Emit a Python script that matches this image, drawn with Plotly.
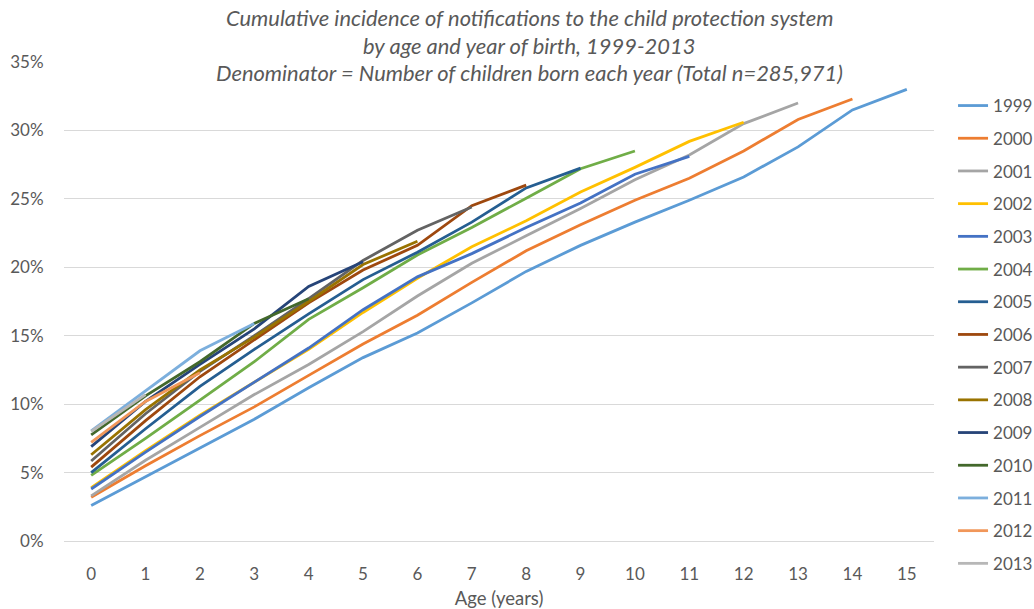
import plotly.graph_objects as go

ages = list(range(16))
age_labels = [str(a) for a in ages]
years = ["1999", "2000", "2001", "2002", "2003", "2004", "2005", "2006",
         "2007", "2008", "2009", "2010", "2011", "2012", "2013"]

# cumulative incidence (%) by age, one list per birth year
y1999 = [2.6, 4.7, 6.8, 8.9, 11.2, 13.4, 15.2, 17.4, 19.7, 21.6, 23.3, 24.9, 26.6, 28.8, 31.5, 33.0]
y2000 = [3.2, 5.5, 7.7, 9.8, 12.1, 14.4, 16.5, 18.9, 21.2, 23.1, 24.9, 26.5, 28.5, 30.8, 32.3]
y2001 = [3.3, 5.9, 8.3, 10.7, 12.9, 15.3, 17.9, 20.3, 22.3, 24.3, 26.4, 28.2, 30.5, 32.0]
y2002 = [3.9, 6.6, 9.2, 11.6, 14.0, 16.7, 19.2, 21.5, 23.4, 25.5, 27.3, 29.2, 30.6]
y2003 = [3.8, 6.5, 9.1, 11.6, 14.1, 16.9, 19.3, 21.0, 22.9, 24.7, 26.8, 28.1]
y2004 = [4.8, 7.5, 10.3, 13.1, 16.2, 18.5, 20.9, 22.9, 25.05, 27.2, 28.5]
y2005 = [5.0, 8.2, 11.3, 14.0, 16.6, 19.1, 21.1, 23.3, 25.8, 27.25]
y2006 = [5.4, 8.8, 12.0, 14.7, 17.4, 19.8, 21.6, 24.5, 26.0]
y2007 = [5.85, 9.3, 12.4, 15.0, 17.7, 20.5, 22.7, 24.4]
y2008 = [6.3, 9.6, 12.5, 14.9, 17.5, 20.2, 21.9]
y2009 = [6.9, 10.2, 12.9, 15.5, 18.6, 20.4]
y2010 = [7.75, 10.6, 13.1, 15.9, 17.7]
y2011 = [8.05, 11.0, 13.9, 15.9]
y2012 = [7.2, 10.2, 12.3]
y2013 = [8.0, 10.7]

series = [y1999, y2000, y2001, y2002, y2003, y2004, y2005, y2006,
          y2007, y2008, y2009, y2010, y2011, y2012, y2013]
colors = ["#5B9BD5", "#ED7D31", "#A5A5A5", "#FFC000", "#4472C4", "#70AD47",
          "#255E91", "#9E480E", "#636363", "#997300", "#264478", "#43682B",
          "#7CAFDD", "#F1975A", "#B7B7B7"]

title_lines = [
    "Cumulative incidence of notifications to the child protection system",
    "by age and year of birth, 1999-2013",
    "Denominator = Number of children born each year (Total n=285,971)",
]

FONT = "Lato, 'Open Sans', sans-serif"
GREY = "#595959"

fig = go.Figure()
for yr, vals, col in zip(years, series, colors):
    fig.add_trace(go.Scatter(
        x=ages[:len(vals)], y=[v / 100 for v in vals],
        mode="lines", name=yr, legendgroup=yr,
        line=dict(color=col, width=2.8),
    ))

for txt, yp in zip(title_lines, [1.092, 1.035, 0.979]):
    fig.add_annotation(text="<i>" + txt + "</i>", x=0.535, y=yp,
                       xref="paper", yref="paper", showarrow=False,
                       xanchor="center", yanchor="middle",
                       font=dict(family=FONT, size=21.9, color=GREY))

fig.update_layout(
    width=1034, height=609,
    margin=dict(l=64, r=100, t=62, b=68, autoexpand=False),
    plot_bgcolor="white", paper_bgcolor="white",
    font=dict(family=FONT, color=GREY),
    showlegend=True,
    legend=dict(xref="container", yref="container",
                x=0.9217, xanchor="left", y=0.8555, yanchor="top",
                font=dict(family=FONT, size=17, color=GREY),
                tracegroupgap=7.6, itemwidth=30, maxheight=600,
                bgcolor="rgba(0,0,0,0)"),
    xaxis=dict(
        range=[-0.5, 15.5], tickmode="array", tickvals=ages, ticktext=age_labels,
        showgrid=False, zeroline=False, showline=False, automargin=False,
        ticks="outside", ticklen=18, tickcolor="rgba(0,0,0,0)",
        tickfont=dict(family=FONT, size=17, color=GREY),
        title=dict(text="Age (years)", font=dict(family=FONT, size=18.5, color=GREY), standoff=8),
    ),
    yaxis=dict(
        range=[0, 0.35], dtick=0.05, tickformat=".0%",
        showgrid=True, gridcolor="#D9D9D9", gridwidth=1,
        zeroline=True, zerolinecolor="#D9D9D9", zerolinewidth=1,
        showline=False, automargin=False,
        ticks="outside", ticklen=16, tickcolor="rgba(0,0,0,0)",
        tickfont=dict(family=FONT, size=17, color=GREY),
    ),
)

fig.write_html("out.html")
